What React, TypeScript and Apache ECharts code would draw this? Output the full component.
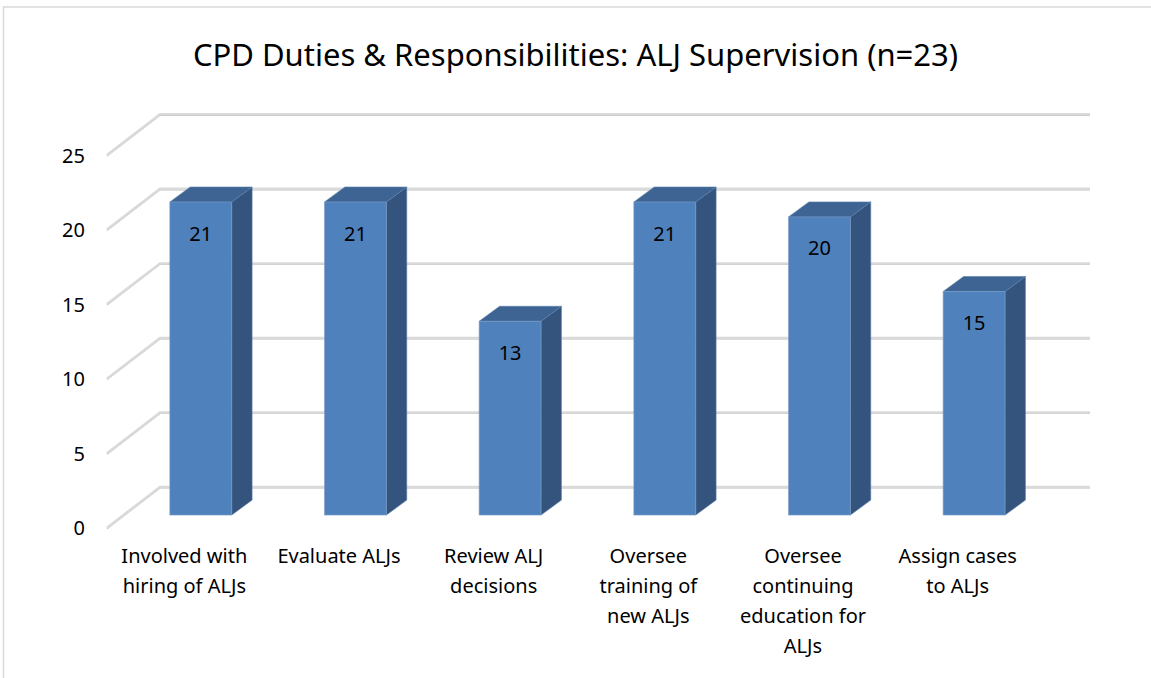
import React, { useEffect, useRef } from "react";
import * as echarts from "echarts";

const TITLE = "CPD Duties & Responsibilities: ALJ Supervision (n=23)";
const categories = [
  "Involved with\nhiring of ALJs",
  "Evaluate ALJs",
  "Review ALJ\ndecisions",
  "Oversee\ntraining of\nnew ALJs",
  "Oversee\ncontinuing\neducation for\nALJs",
  "Assign cases\nto ALJs",
];
const values = [21, 21, 13, 21, 20, 15];
const yTicks = [0, 5, 10, 15, 20, 25];

const FONT = "'Noto Sans', 'Open Sans', sans-serif";
// perspective constants (styling)
const DEPTH_X = 53;
const DEPTH_Y = -40.7;
const BAR_FRONT = 0.31; // bar front plane, fraction of floor depth
const BAR_DX = 20.4;
const BAR_DY = -15;

export default function App() {
  const ref = useRef<HTMLDivElement>(null);
  useEffect(() => {
    if (!ref.current) return;
    const chart = echarts.init(ref.current, null, { renderer: "svg" });
    const option: any = {
      animation: false,
      backgroundColor: "#ffffff",
      title: {
        text: TITLE,
        left: "center",
        top: 33,
        textStyle: { fontFamily: FONT, fontSize: 31, fontWeight: "normal", color: "#000" },
      },
      graphic: [
        {
          type: "rect",
          shape: { x: 3.5, y: 7, width: 1300, height: 800 },
          style: { fill: "none", stroke: "#d9d9d9", lineWidth: 1.5 },
          silent: true,
        },
      ],
      grid: { left: 107, right: 116, top: 155, bottom: 150.3 },
      xAxis: {
        type: "category",
        data: categories,
        axisLine: { show: false },
        axisTick: { show: false },
        axisLabel: {
          interval: 0,
          margin: 13,
          fontFamily: FONT,
          fontSize: 20,
          lineHeight: 30,
          color: "#000",
          align: "center",
        },
      },
      yAxis: {
        type: "value",
        min: 0,
        max: 25,
        interval: 5,
        axisLine: { show: false },
        axisTick: { show: false },
        splitLine: { show: false },
        axisLabel: { margin: 22, fontFamily: FONT, fontSize: 20, color: "#000" },
      },
      series: [
        {
          type: "custom",
          name: "walls",
          z: 1,
          silent: true,
          data: yTicks.map((t) => [0, t]),
          renderItem: (params: any, api: any) => {
            const cs = params.coordSys;
            const p = api.coord([0, api.value(1)]);
            const y = p[1];
            const x0 = cs.x;
            const x1 = cs.x + cs.width;
            const pts = [
              [x0, y],
              [x0 + DEPTH_X, y + DEPTH_Y],
              [x1 + DEPTH_X + 2, y + DEPTH_Y],
            ];
            return {
              type: "group",
              children: [
                {
                  type: "polyline",
                  shape: { points: pts.map((q) => [q[0], q[1] + 1]) },
                  style: { fill: "none", stroke: "#bdbdbd", lineWidth: 1.2 },
                },
                {
                  type: "polyline",
                  shape: { points: pts },
                  style: { fill: "none", stroke: "#dadada", lineWidth: 2.5 },
                },
              ],
            };
          },
        },
        {
          type: "custom",
          name: "bars",
          z: 3,
          data: values.map((v, i) => [i, v]),
          renderItem: (params: any, api: any) => {
            const i = api.value(0);
            const v = api.value(1);
            const base = api.coord([i, 0]);
            const top = api.coord([i, v]);
            const bw = api.size([1, 0])[0] * 0.4;
            const ox = DEPTH_X * BAR_FRONT;
            const oy = DEPTH_Y * BAR_FRONT;
            const xl = base[0] + ox - bw / 2;
            const xr = xl + bw;
            const yb = base[1] + oy;
            const yt = top[1] + oy;
            return {
              type: "group",
              children: [
                {
                  type: "polygon",
                  shape: {
                    points: [
                      [xr, yt],
                      [xr + BAR_DX, yt + BAR_DY],
                      [xr + BAR_DX, yb + BAR_DY],
                      [xr, yb],
                    ],
                  },
                  style: { fill: "#34547e", stroke: "#5a7fab", lineWidth: 0.6 },
                },
                {
                  type: "polygon",
                  shape: {
                    points: [
                      [xl, yt],
                      [xr, yt],
                      [xr + BAR_DX, yt + BAR_DY],
                      [xl + BAR_DX, yt + BAR_DY],
                    ],
                  },
                  style: { fill: "#3d6492", stroke: "#5a7fab", lineWidth: 0.6 },
                },
                {
                  type: "rect",
                  shape: { x: xl, y: yt, width: bw, height: yb - yt },
                  style: { fill: "#4f81bd", stroke: "#7a9cc8", lineWidth: 0.6 },
                },
                {
                  type: "text",
                  style: {
                    text: String(v),
                    x: (xl + xr) / 2,
                    y: yt + 31,
                    align: "center",
                    verticalAlign: "middle",
                    fontFamily: FONT,
                    fontSize: 20,
                    fill: "#000",
                  },
                },
              ],
            };
          },
        },
      ],
    };
    chart.setOption(option);
    return () => chart.dispose();
  }, []);
  return (
    <div
      ref={ref}
      style={{ position: "fixed", left: 0, top: 0, width: 1151, height: 678 }}
    />
  );
}
